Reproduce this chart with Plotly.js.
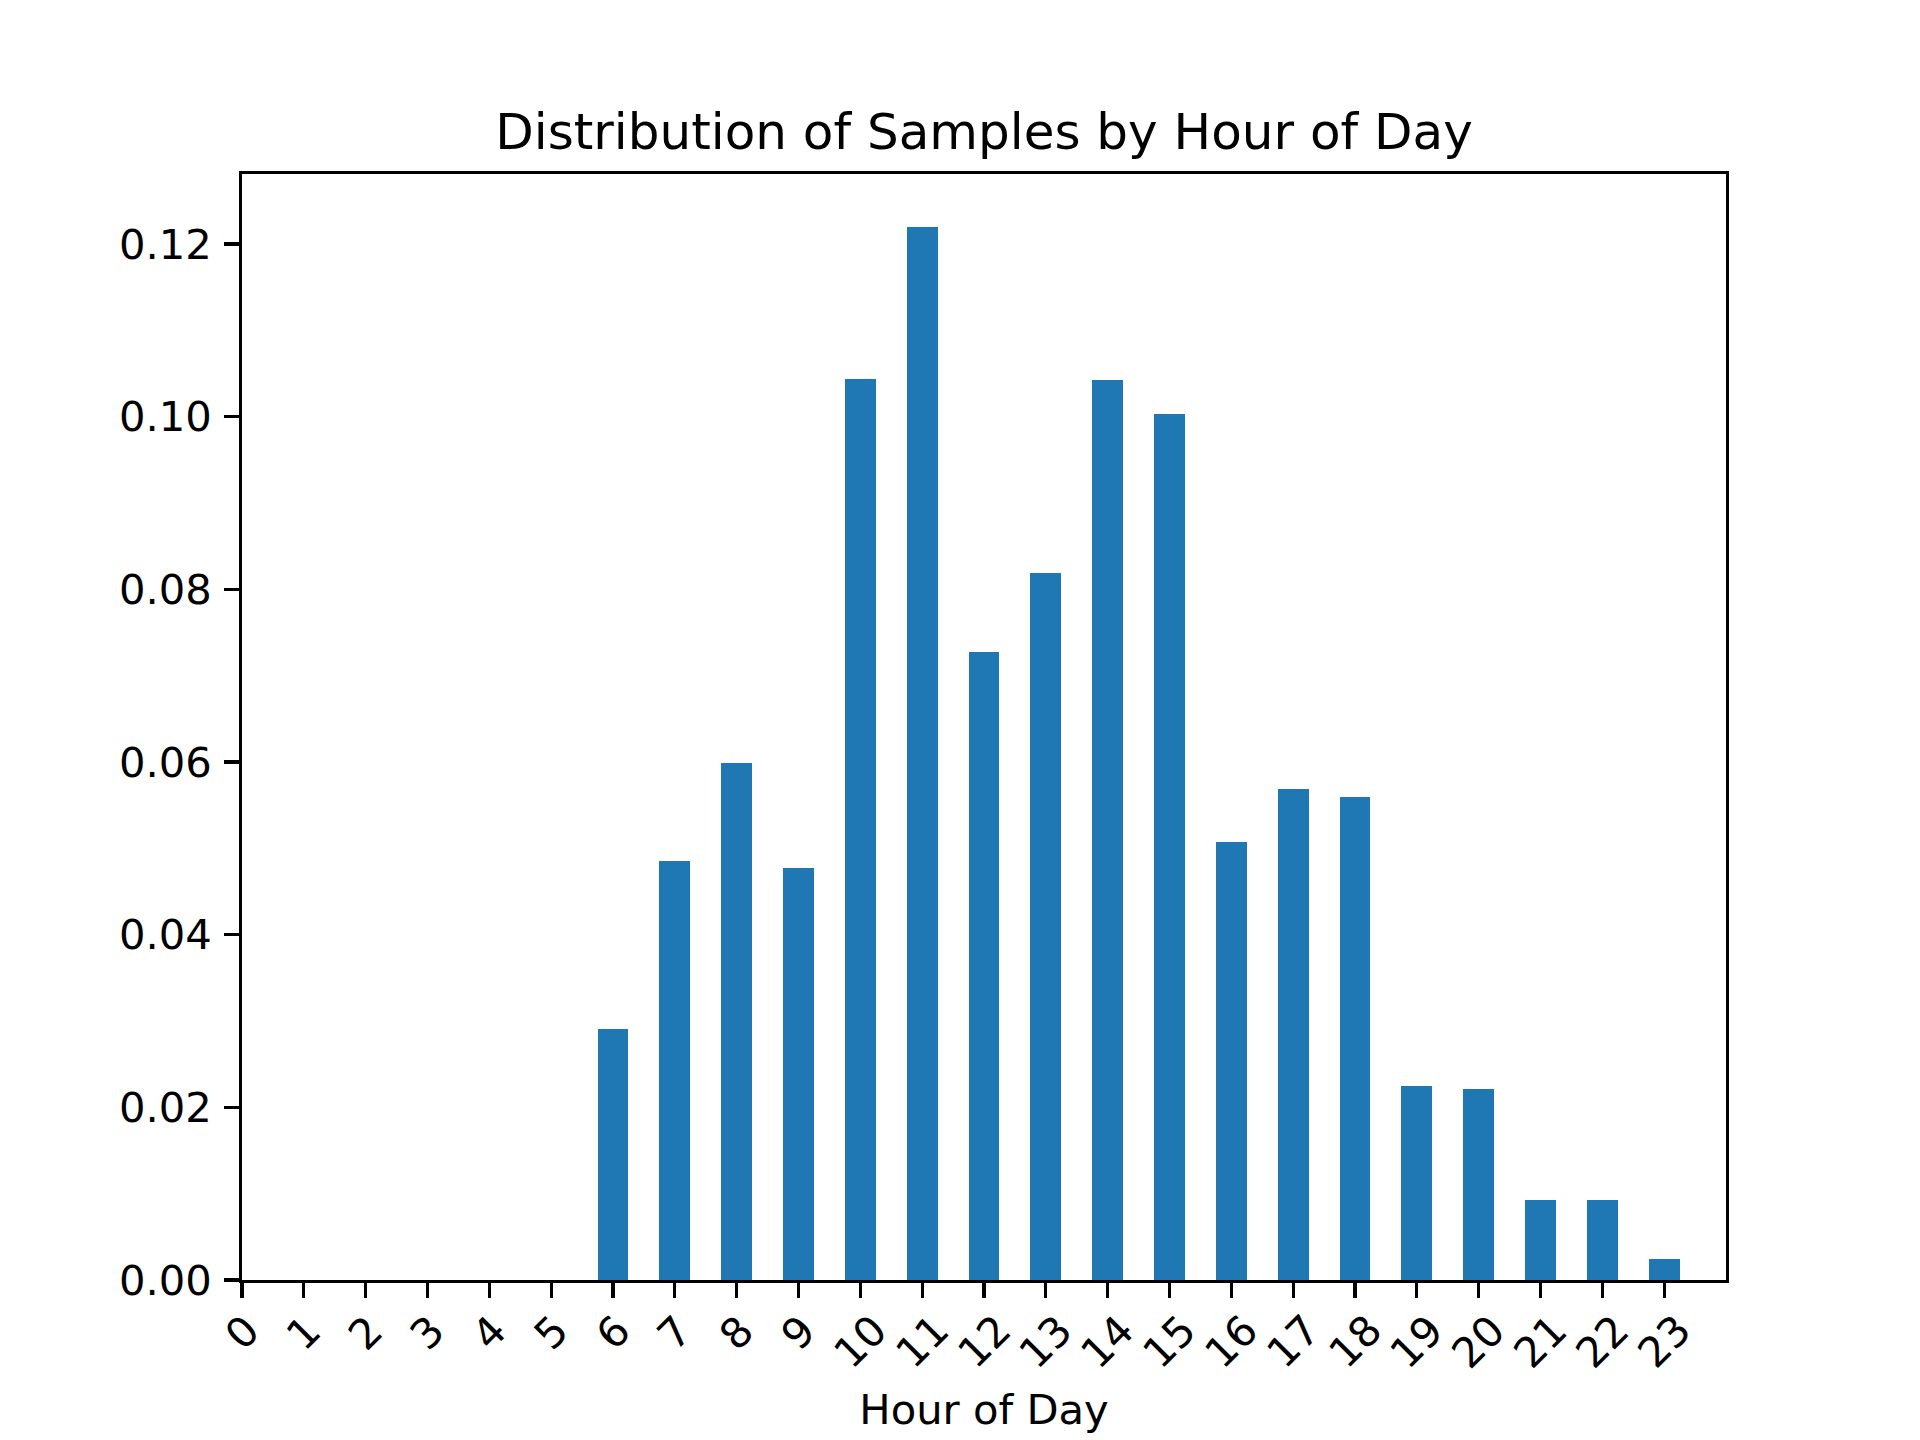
<!DOCTYPE html>
<html>
<head>
<meta charset="utf-8">
<script src="https://cdn.plot.ly/plotly-3.0.1.min.js"></script>
<style>
  html, body { margin: 0; padding: 0; background: #ffffff; }
  #chart { width: 1920px; height: 1440px; }
</style>
</head>
<body>
<div id="chart"></div>
<script>
// Data
const hours = [0, 1, 2, 3, 4, 5, 6, 7, 8, 9, 10, 11, 12, 13, 14, 15, 16, 17, 18, 19, 20, 21, 22, 23];
const hourLabels = ["0", "1", "2", "3", "4", "5", "6", "7", "8", "9", "10", "11",
                    "12", "13", "14", "15", "16", "17", "18", "19", "20", "21", "22", "23"];
const fractions = [0, 0, 0, 0, 0, 0, 0.0291, 0.0485, 0.0599, 0.0477, 0.1044, 0.1220,
                   0.0727, 0.0819, 0.1042, 0.1003, 0.0507, 0.0569, 0.0559, 0.0225,
                   0.0221, 0.0093, 0.0093, 0.0024];
const yTickVals = [0, 0.02, 0.04, 0.06, 0.08, 0.10, 0.12];
const yTickText = ["0.00", "0.02", "0.04", "0.06", "0.08", "0.10", "0.12"];
const titleText = "Distribution of Samples by Hour of Day";
const xTitleText = "Hour of Day";

const FONT = "DejaVu Sans, Verdana, sans-serif";
const tickFontSize = 41.7;
const lineW = 3.3;
const half = lineW / 2;

// axes box like matplotlib defaults (spine centres)
const boxL = 240, boxR = 1728, boxT = 172.8, boxB = 1281.6;
const yMax = Math.max(...fractions) * 1.05;

const trace = {
  type: "bar",
  x: hours,
  y: fractions,
  width: 0.5,
  marker: { color: "#1f77b4", line: { width: 0 } },
  hoverinfo: "x+y",
  showlegend: false
};

const annotations = hours.map((h, i) => ({
  x: h,
  xref: "x",
  y: -0.022,
  yref: "paper",
  text: hourLabels[i],
  showarrow: false,
  textangle: -45,
  xanchor: "center",
  yanchor: "top",
  borderpad: 0,
  font: { family: FONT, size: tickFontSize, color: "#000000" }
}));

const layout = {
  width: 1920,
  height: 1440,
  paper_bgcolor: "#ffffff",
  plot_bgcolor: "#ffffff",
  margin: { l: boxL + half, r: 1920 - boxR + half, t: boxT + half, b: 1440 - boxB + half, pad: 0 },
  font: { family: FONT, color: "#000000" },
  title: {
    text: titleText,
    font: { family: FONT, size: 50, color: "#000000" },
    x: 0.5,
    xref: "paper",
    xanchor: "center",
    y: 1 - 149 / 1440,
    yref: "container",
    yanchor: "bottom"
  },
  xaxis: {
    range: [0, 24],
    tickmode: "array",
    tickvals: hours,
    showticklabels: false,
    ticks: "outside",
    ticklen: 14.6,
    tickwidth: lineW,
    tickcolor: "#000000",
    showline: true,
    linecolor: "#000000",
    linewidth: lineW,
    mirror: true,
    showgrid: false,
    zeroline: false,
    automargin: false,
    fixedrange: true,
    title: {
      text: xTitleText,
      font: { family: FONT, size: tickFontSize, color: "#000000" },
      standoff: 99
    }
  },
  yaxis: {
    range: [0, yMax],
    tickmode: "array",
    tickvals: yTickVals,
    ticktext: yTickText,
    ticks: "outside",
    ticklen: 14.6,
    tickwidth: lineW,
    tickcolor: "#000000",
    ticklabelstandoff: 4,
    tickfont: { family: FONT, size: tickFontSize, color: "#000000" },
    showline: true,
    linecolor: "#000000",
    linewidth: lineW,
    mirror: true,
    showgrid: false,
    zeroline: false,
    automargin: false,
    fixedrange: true
  },
  annotations: annotations,
  bargap: 0
};

Plotly.newPlot("chart", [trace], layout, { displayModeBar: false, staticPlot: true });
</script>
</body>
</html>
